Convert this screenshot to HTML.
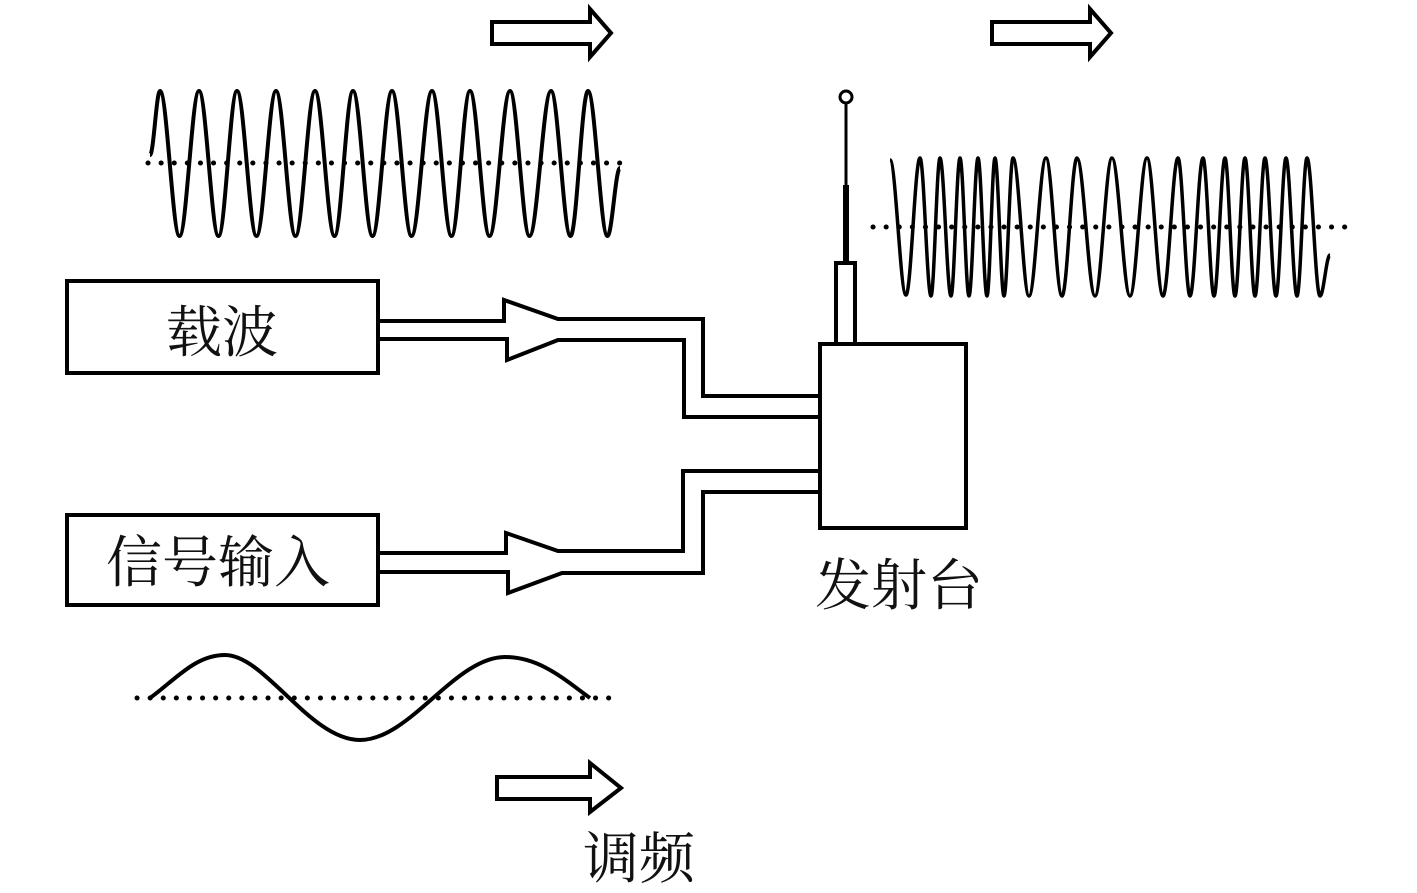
<!DOCTYPE html>
<html><head><meta charset="utf-8"><style>
html,body{margin:0;padding:0;background:#fff;width:1417px;height:893px;overflow:hidden}
svg{display:block}
text{font-family:"Liberation Serif","Noto Serif CJK SC",serif;font-size:56px;fill:#111}
</style></head><body>
<svg id="s" width="1417" height="893" viewBox="0 0 1417 893" xmlns="http://www.w3.org/2000/svg">
<g fill="none" stroke="#000" stroke-width="4" stroke-linejoin="miter">
<path d="M492,22 H590 V9 L611,33 L590,57 V44 H492 Z"/>
<path d="M992,22 H1090 V9 L1111,33 L1090,57 V44 H992 Z"/>
<path d="M497,777 H590 V763 L621,788 L590,812 V799 H497 Z"/>
<rect x="67" y="281" width="311" height="92"/>
<rect x="67" y="515" width="311" height="90"/>
<rect x="820" y="344" width="146" height="184"/>
<rect x="836" y="263" width="19" height="81"/>
<line x1="846" y1="104" x2="846" y2="263" stroke-width="3"/>
<line x1="846" y1="185" x2="846" y2="263" stroke-width="6"/>
<circle cx="846" cy="97" r="6" stroke-width="3"/>
<path d="M378,321 H504 V300 L558,319 H703 V396 H820"/>
<path d="M378,339 H507 V360 L558,340 H684 V417 H820"/>
<path d="M378,553 H506 V533 L558,551 H683 V471 H820"/>
<path d="M378,572 H508 V593 L562,573 H703 V492 H820"/>
<line x1="148" y1="163" x2="627" y2="163" stroke-width="5" stroke-dasharray="0.1 13" stroke-linecap="round"/>
<line x1="873" y1="227" x2="1352" y2="227" stroke-width="5" stroke-dasharray="0.1 13" stroke-linecap="round"/>
<line x1="137" y1="698" x2="613" y2="698" stroke-width="5" stroke-dasharray="0.1 13" stroke-linecap="round"/>
<path id="w1" stroke-width="4"/>
<path id="w2" stroke-width="3.5"/>
<path d="M150,698 C175,680 195,655 225,655 C265,655 310,740 360,740 C410,740 455,657 505,657 C540,657 565,680 590,698" stroke-width="4"/>
</g>
<text x="166" y="352">载波</text>
<text x="106" y="582">信号输入</text>
<text x="815" y="605">发射台</text>
<text x="583" y="878">调频</text>
</svg>
<script>
function wave(pts){var d="M"+pts[0][0]+","+pts[0][1];
for(var i=1;i<pts.length;i++){var a=pts[i-1],b=pts[i];var dx=(b[0]-a[0])*0.36;
d+=" C"+(a[0]+dx)+","+a[1]+" "+(b[0]-dx)+","+b[1]+" "+b[0]+","+b[1];}return d;}
var p=[[150,155]];
var peaks=[160,199,237,276,315,353,392,432,470,510,551,588];
for(var i=0;i<peaks.length;i++){p.push([peaks[i],91]);p.push([peaks[i]+19.5,236]);}
p.push([620,168]);
document.getElementById("w1").setAttribute("d",wave(p));
var q=[[890,160]];
var pk=[920,940,960,978,995,1013,1046,1077,1112,1147,1178,1203,1225,1245,1265,1286,1307];
var tr=[906,931,951,969,987,1004,1029,1062,1095,1130,1163,1190,1214,1235,1255,1276,1297,1320];
q.push([tr[0],295]);
for(var i=0;i<pk.length;i++){q.push([pk[i],158]);q.push([tr[i+1],296]);}
q.push([1330,255]);
document.getElementById("w2").setAttribute("d",wave(q));
</script>
</body></html>
